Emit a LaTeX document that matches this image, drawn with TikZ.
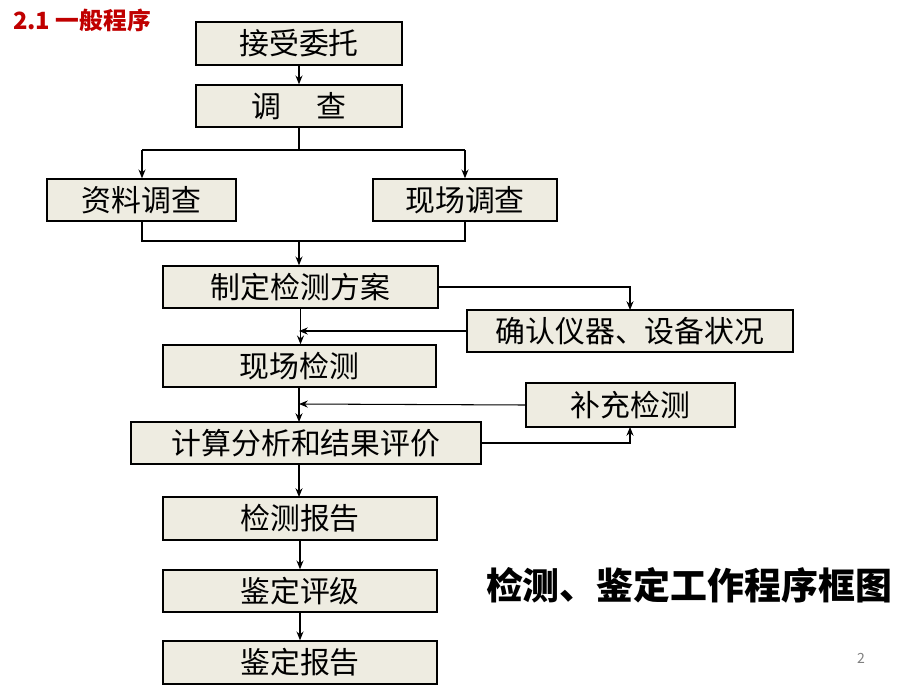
\documentclass[tikz,border=0pt]{standalone}
\usepackage{fontspec}
\setmainfont{Noto Sans CJK SC}
\usetikzlibrary{arrows.meta}
\definecolor{boxfill}{HTML}{EEECE1}
\definecolor{titlered}{HTML}{C00000}
\tikzset{
 box/.style={draw=black, fill=boxfill, line width=0.8pt, inner sep=0pt, font=\fontsize{17}{20}\selectfont},
 arr/.style={-{Stealth[length=5pt,width=4pt]}, line width=0.6pt},
 ln/.style={line width=0.6pt}
}
\newcommand{\bx}[6]{\node[box, minimum width={(#4-#2)*0.02cm}, minimum height={(#5-#3)*0.02cm}] (#1) at ({(#2+#4)/2},{(#3+#5)/2}) {#6};}
\begin{document}
\begin{tikzpicture}[x=0.02cm,y=-0.02cm]
\useasboundingbox (0,0) rectangle (920,690);
\node[anchor=west, text=titlered, font=\fontsize{13.5}{15}\selectfont\bfseries] (title) at (7,20) {2.1 一般程序};
\bx{a}{196}{22}{402}{65}{接受委托}
\bx{b}{196}{85}{402}{127}{调\hspace{1.2em}查}
\bx{c1}{47}{179}{236}{221}{资料调查}
\bx{c2}{373}{179}{557}{221}{现场调查}
\bx{d}{163}{266}{438}{308}{制定检测方案}
\bx{e}{467}{310}{793}{352}{确认仪器、设备状况}
\bx{f}{163}{345}{436}{387}{现场检测}
\bx{g}{526}{383}{735}{427}{补充检测}
\bx{h}{131}{422}{481}{464}{计算分析和结果评价}
\bx{i}{163}{497}{437}{540}{检测报告}
\bx{j}{163}{570}{437}{612}{鉴定评级}
\bx{k}{163}{641}{437}{684}{鉴定报告}
\coordinate (s1) at (142,150); \coordinate (s2) at (465,150);
\coordinate (m1) at (142,241); \coordinate (m2) at (465,241); \coordinate (m0) at (299,241);
\draw[arr] (a.south) -- (b.south |- a.south) -- (b.north);
\draw[ln] (b.south) -- (299,150);
\draw[arr] (s1) -- (s1 |- c1.north);
\draw[arr] (s2) -- (s2 |- c2.north);
\draw[ln] (s1) -- (s2);
\draw[ln] (s1 |- c1.south) -- (m1) -- (m2) -- (s2 |- c2.south);
\draw[arr] (m0) -- (m0 |- d.north);
\draw[arr] (d.east) -- (630,287) -- (630,310);
\draw[arr] (d.south) -- (f.north -| d.south);
\draw[arr] (e.west) -- (299,331);
\draw[arr] (299,387) -- (299,422);
\draw[arr] (g.west) -- (299,404);
\draw[arr] (h.east) -- (630,443) -- (630,427);
\draw[arr] (299,464) -- (299,497);
\draw[arr] (i.south) -- (j.north);
\draw[arr] (j.south) -- (k.north);
\node[font=\fontsize{21}{24}\selectfont\bfseries] (cap) at (689,585) {检测、鉴定工作程序框图};
\node[text=gray, font=\fontsize{8}{10}\selectfont] (pg) at (861,658) {2};
\end{tikzpicture}
\end{document}
